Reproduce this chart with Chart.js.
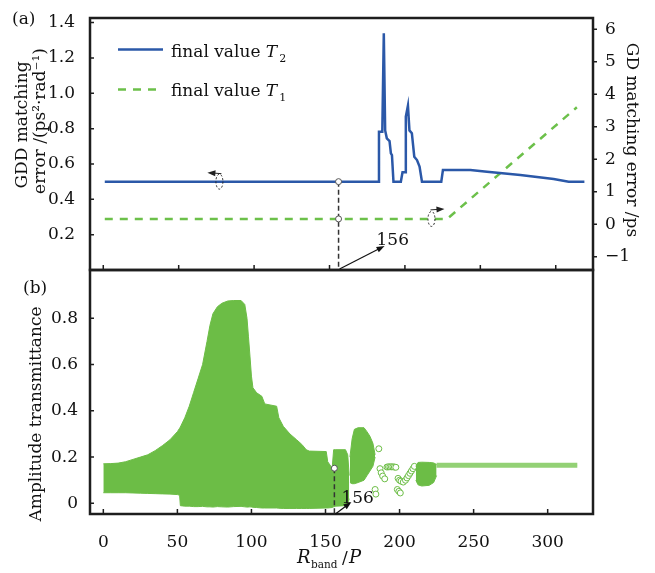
<!DOCTYPE html>
<html>
<head>
<meta charset="utf-8">
<script src="https://cdn.jsdelivr.net/npm/chart.js@4.4.1/dist/chart.umd.min.js"></script>
<style>
  html, body { margin: 0; padding: 0; background: #fff; }
  #wrap { position: relative; width: 655px; height: 573px; }
  #wrap canvas { position: absolute; left: 0; top: 0; }
</style>
</head>
<body>
<div id="wrap">
  <canvas id="topChart" width="655" height="573"></canvas>
  <canvas id="bottomChart" width="655" height="573"></canvas>
</div>
<script>
// Tick labels
const xTicks = [0, 50, 100, 150, 200, 250, 300];
const gddTicks = [0.2, 0.4, 0.6, 0.8, 1.0, 1.2, 1.4];
const gdTicks = [-1, 0, 1, 2, 3, 4, 5, 6];
const ampTicks = [0, 0.2, 0.4, 0.6, 0.8];

// (a) final value T2 -> GDD error (left axis)
const t2X = [1, 182.3, 182.8, 185, 186, 186.9, 188, 189.8, 190.7, 191.4, 192.4, 197.3, 198.4, 200.2, 200.6, 202, 203, 204.6, 206.2, 208, 209.7, 211.3, 224.1, 225.2, 243.4, 254.4, 276.5, 298.6, 308.6, 319];
const t2Y = [0.5, 0.5, 0.783, 0.783, 1.34, 0.79, 0.745, 0.73, 0.66, 0.65, 0.5, 0.5, 0.553, 0.553, 0.868, 0.93, 0.79, 0.774, 0.641, 0.622, 0.585, 0.5, 0.5, 0.566, 0.566, 0.556, 0.538, 0.515, 0.5, 0.5];

// (a) final value T1 -> GD error (right axis)
const t1X = [1, 228, 314];
const t1Y = [0.163, 0.163, 3.6];

// (b) dense scatter envelope
const mainX = [0, 5, 10, 15, 20, 25, 30, 35, 40, 45, 50, 51.5, 52, 55, 58, 61, 64, 67, 70, 72, 74, 77, 80, 84, 88, 93, 95.5, 97, 98, 99, 100, 101, 103.5, 107, 109, 117, 118.5, 121.5, 126, 130.5, 134, 137, 139, 150.5, 151.5, 154.5, 155.5, 157, 163.5, 165, 166];
const mainUpper = [0.171, 0.172, 0.174, 0.18, 0.19, 0.2, 0.21, 0.228, 0.25, 0.275, 0.31, 0.325, 0.33, 0.37, 0.42, 0.48, 0.54, 0.6, 0.7, 0.77, 0.82, 0.85, 0.865, 0.875, 0.877, 0.877, 0.86, 0.8, 0.72, 0.637, 0.55, 0.5, 0.478, 0.463, 0.43, 0.42, 0.37, 0.333, 0.3, 0.275, 0.255, 0.232, 0.226, 0.224, 0.18, 0.152, 0.232, 0.232, 0.232, 0.21, 0.12];
const mainLower = [0.046, 0.046, 0.046, 0.046, 0.045, 0.044, 0.043, 0.042, 0.041, 0.04, 0.038, 0.035, -0.01, -0.012, -0.012, -0.014, -0.014, -0.013, -0.015, -0.015, -0.016, -0.014, -0.015, -0.016, -0.014, -0.013, -0.015, -0.016, -0.016, -0.015, -0.016, -0.017, -0.018, -0.02, -0.02, -0.02, -0.021, -0.022, -0.022, -0.022, -0.022, -0.022, -0.022, -0.02, -0.02, -0.018, -0.015, -0.012, -0.01, 0.0, 0.02];

const clusterBX = [166.5, 168, 169.5, 172, 176, 178, 180, 182, 183.5];
const clusterBUpper = [0.2, 0.28, 0.32, 0.327, 0.327, 0.31, 0.29, 0.26, 0.21];
const clusterBLower = [0.09, 0.085, 0.085, 0.09, 0.1, 0.12, 0.14, 0.16, 0.2];

const clusterCX = [211, 212.5, 215, 220, 223, 225];
const clusterCUpper = [0.16, 0.177, 0.178, 0.177, 0.175, 0.168];
const clusterCLower = [0.1, 0.08, 0.075, 0.078, 0.09, 0.12];

// (b) isolated circles
const dotX = [183.5, 184, 186, 186.8, 187.6, 188.6, 190, 191.5, 192.5, 193.5, 194.5, 195.5, 196.5, 197.5, 198.5, 199.5, 200.5, 199, 200, 201, 202.5, 204, 205, 206, 207, 208, 209, 210];
const dotY = [0.06, 0.04, 0.236, 0.15, 0.132, 0.118, 0.106, 0.157, 0.158, 0.158, 0.158, 0.158, 0.157, 0.156, 0.06, 0.052, 0.045, 0.108, 0.1, 0.096, 0.092, 0.1, 0.11, 0.12, 0.13, 0.14, 0.15, 0.16];

// (b) flat tail of circles
const tailX = [225, 320];
const tailY = [0.165, 0.165];

// marked point
const markX = 156;
const markGdd = 0.5;
const markGd = 0.163;
const markAmp = 0.152;

const SERIF = '"DejaVu Serif", "Liberation Serif", serif';
const BLUE = '#2b58a8';
const GREEN_LINE = '#6cc04a';
const GREEN_FILL = '#6cbd46';
const AXIS = '#1e1e1e';

Chart.defaults.font.family = SERIF;
Chart.defaults.font.size = 17;
Chart.defaults.color = '#111';

const pts = (xs, ys) => xs.map((x, i) => ({ x: x, y: ys[i] }));
const fixTicks = list => scale => { scale.ticks = list.map(v => ({ value: v })); };
const fmtInt = v => (v < 0 ? '\u2212' + Math.abs(v) : String(v));
const fmtDec = v => (v === 0 ? '0' : v.toFixed(1));

function drawArrow(ctx, x1, y1, x2, y2) {
    const ang = Math.atan2(y2 - y1, x2 - x1);
    ctx.beginPath();
    ctx.moveTo(x1, y1);
    ctx.lineTo(x2 - 5 * Math.cos(ang), y2 - 5 * Math.sin(ang));
    ctx.stroke();
    ctx.beginPath();
    ctx.moveTo(x2, y2);
    ctx.lineTo(x2 - 8 * Math.cos(ang) + 3 * Math.sin(ang), y2 - 8 * Math.sin(ang) - 3 * Math.cos(ang));
    ctx.lineTo(x2 - 8 * Math.cos(ang) - 3 * Math.sin(ang), y2 - 8 * Math.sin(ang) + 3 * Math.cos(ang));
    ctx.closePath();
    ctx.fill();
}

function drawLoop(ctx, cx, cy, dir) {
    ctx.save();
    ctx.lineWidth = 1;
    ctx.strokeStyle = '#222';
    ctx.fillStyle = '#222';
    ctx.setLineDash([2, 2]);
    ctx.beginPath();
    ctx.ellipse(cx, cy, 3.5, 7.5, 0, 0, Math.PI * 2);
    ctx.stroke();
    ctx.setLineDash([]);
    if (dir < 0) drawArrow(ctx, cx + 2, cy - 8, cx - 12, cy - 9);
    else drawArrow(ctx, cx - 1, cy - 9, cx + 13, cy - 10);
    ctx.restore();
}

function hollowDot(ctx, x, y) {
    ctx.beginPath();
    ctx.arc(x, y, 3, 0, Math.PI * 2);
    ctx.fillStyle = '#fff';
    ctx.fill();
    ctx.lineWidth = 1;
    ctx.strokeStyle = '#555';
    ctx.stroke();
}

function vText(ctx, str, x, y, angle) {
    ctx.save();
    ctx.translate(x, y);
    ctx.rotate(angle);
    ctx.textAlign = 'center';
    ctx.textBaseline = 'middle';
    ctx.fillText(str, 0, 0);
    ctx.restore();
}

// short tick marks, len > 0 points into the plot
function drawTicks(ctx, scale, edge, len) {
    ctx.save();
    ctx.strokeStyle = AXIS;
    ctx.lineWidth = 1.5;
    ctx.beginPath();
    scale.ticks.forEach(t => {
        const p = scale.getPixelForValue(t.value);
        if (edge === 'bottom') { ctx.moveTo(p, edge === 'bottom' ? scale.chart.chartArea.bottom : 0); ctx.lineTo(p, scale.chart.chartArea.bottom - len); }
        if (edge === 'left') { ctx.moveTo(scale.chart.chartArea.left, p); ctx.lineTo(scale.chart.chartArea.left + len, p); }
        if (edge === 'right') { ctx.moveTo(scale.chart.chartArea.right, p); ctx.lineTo(scale.chart.chartArea.right - len, p); }
    });
    ctx.stroke();
    ctx.restore();
}

function frame(ctx, a) {
    ctx.strokeStyle = AXIS;
    ctx.lineWidth = 2.5;
    ctx.strokeRect(a.left, a.top, a.right - a.left, a.bottom - a.top);
}

const topDecor = {
    id: 'topDecor',
    afterDraw(chart) {
        const { ctx, chartArea: a, scales } = chart;
        ctx.save();
        frame(ctx, a);
        drawTicks(ctx, scales.x, 'bottom', 5);
        drawTicks(ctx, scales.y, 'left', 4);
        drawTicks(ctx, scales.y2, 'right', -4);

        // marker at 156
        const mx = scales.x.getPixelForValue(markX);
        const yb = scales.y.getPixelForValue(markGdd);
        const yg = scales.y2.getPixelForValue(markGd);
        ctx.setLineDash([5, 3]);
        ctx.lineWidth = 1.5;
        ctx.strokeStyle = '#333';
        ctx.beginPath();
        ctx.moveTo(mx, yb);
        ctx.lineTo(mx, a.bottom);
        ctx.stroke();
        ctx.setLineDash([]);
        hollowDot(ctx, mx, yb);
        hollowDot(ctx, mx, yg);

        ctx.fillStyle = '#111';
        ctx.strokeStyle = '#111';
        ctx.lineWidth = 1.2;
        drawArrow(ctx, mx + 1, a.bottom - 1, mx + 46, a.bottom - 24);
        ctx.font = '17px ' + SERIF;
        ctx.textAlign = 'left';
        ctx.textBaseline = 'alphabetic';
        ctx.fillText('156', mx + 38, a.bottom - 25);

        // axis-side loops
        drawLoop(ctx, scales.x.getPixelForValue(77), scales.y.getPixelForValue(0.5), -1);
        drawLoop(ctx, scales.x.getPixelForValue(217.6), scales.y2.getPixelForValue(0.163), 1);

        // legend
        ctx.lineWidth = 2.5;
        ctx.strokeStyle = BLUE;
        ctx.beginPath();
        ctx.moveTo(118, 49.5);
        ctx.lineTo(163, 49.5);
        ctx.stroke();
        ctx.strokeStyle = GREEN_LINE;
        ctx.setLineDash([8, 7]);
        ctx.beginPath();
        ctx.moveTo(118, 89.5);
        ctx.lineTo(160, 89.5);
        ctx.stroke();
        ctx.setLineDash([]);
        [['2', 57], ['1', 96]].forEach(([sub, base]) => {
            ctx.fillStyle = '#111';
            ctx.font = '17px ' + SERIF;
            ctx.fillText('final value ', 171, base);
            let w = ctx.measureText('final value ').width;
            ctx.font = 'italic 17px ' + SERIF;
            ctx.fillText('T', 171 + w, base);
            w += ctx.measureText('T').width;
            ctx.font = '11px ' + SERIF;
            ctx.fillText(sub, 171 + w + 2, base + 5);
        });

        // panel label and axis titles
        ctx.font = '17px ' + SERIF;
        ctx.fillText('(a)', 12, 24);
        vText(ctx, 'GDD matching', 22.5, 125, -Math.PI / 2);
        vText(ctx, 'error /(ps\u00B2\u00B7rad\u207B\u00B9)', 41, 121, -Math.PI / 2);
        vText(ctx, 'GD matching error /ps', 631, 140, Math.PI / 2);
        ctx.restore();
    }
};

const bottomDecor = {
    id: 'bottomDecor',
    afterDraw(chart) {
        const { ctx, chartArea: a, scales } = chart;
        ctx.save();
        frame(ctx, a);
        drawTicks(ctx, scales.x, 'bottom', 5);
        drawTicks(ctx, scales.y, 'left', 4);

        const mx = scales.x.getPixelForValue(markX);
        const my = scales.y.getPixelForValue(markAmp);
        ctx.setLineDash([5, 3]);
        ctx.lineWidth = 1.5;
        ctx.strokeStyle = '#333';
        ctx.beginPath();
        ctx.moveTo(mx, my);
        ctx.lineTo(mx, a.bottom);
        ctx.stroke();
        ctx.setLineDash([]);
        hollowDot(ctx, mx, my);

        ctx.fillStyle = '#111';
        ctx.strokeStyle = '#111';
        ctx.lineWidth = 1.2;
        drawArrow(ctx, mx + 1, a.bottom, mx + 17, a.bottom - 12);
        ctx.font = '17px ' + SERIF;
        ctx.textAlign = 'left';
        ctx.textBaseline = 'alphabetic';
        ctx.fillText('156', mx + 7, a.bottom - 11);

        ctx.fillText('(b)', 23, 293);
        vText(ctx, 'Amplitude transmittance', 37, 414, -Math.PI / 2);

        // x title: R_band /P
        ctx.textAlign = 'left';
        ctx.font = 'italic 18px ' + SERIF;
        ctx.fillText('R', 297, 563);
        ctx.font = '10.5px ' + SERIF;
        ctx.fillText('band', 311, 568);
        ctx.font = '17px ' + SERIF;
        ctx.fillText('/', 342, 563);
        ctx.font = 'italic 18px ' + SERIF;
        ctx.fillText('P', 349, 563);
        ctx.restore();
    }
};

const noGrid = { display: false };

new Chart(document.getElementById('topChart'), {
    type: 'line',
    data: {
        datasets: [
            { label: 'final value T2', data: pts(t2X, t2Y), yAxisID: 'y', borderColor: BLUE, borderWidth: 2.5, pointRadius: 0, tension: 0, fill: false },
            { label: 'final value T1', data: pts(t1X, t1Y), yAxisID: 'y2', borderColor: GREEN_LINE, borderWidth: 2.5, borderDash: [8, 7], pointRadius: 0, tension: 0, fill: false }
        ]
    },
    options: {
        responsive: false,
        animation: false,
        devicePixelRatio: 1,
        layout: { padding: { top: 18, left: 0, right: 0, bottom: 0 } },
        plugins: { legend: { display: false }, tooltip: { enabled: false } },
        scales: {
            x: {
                type: 'linear', min: -8.8, max: 324.7,
                afterBuildTicks: fixTicks(xTicks),
                afterFit: s => { s.height = 303; },
                ticks: { display: false },
                grid: noGrid,
                border: { display: false }
            },
            y: {
                position: 'left', min: 0, max: 1.426,
                afterBuildTicks: fixTicks(gddTicks),
                afterFit: s => { s.width = 90; },
                ticks: { padding: 7, callback: fmtDec },
                grid: noGrid,
                border: { display: false }
            },
            y2: {
                position: 'right', min: -1.41, max: 6.35,
                afterBuildTicks: fixTicks(gdTicks),
                afterFit: s => { s.width = 62; },
                ticks: { padding: 4, callback: fmtInt },
                grid: noGrid,
                border: { display: false }
            }
        }
    },
    plugins: [topDecor]
});

const band = (xs, lo, hi) => [
    { data: pts(xs, lo), borderColor: GREEN_FILL, borderWidth: 1, pointRadius: 0, tension: 0, fill: false },
    { data: pts(xs, hi), borderColor: GREEN_FILL, borderWidth: 1, backgroundColor: GREEN_FILL, pointRadius: 0, tension: 0, fill: '-1' }
];

new Chart(document.getElementById('bottomChart'), {
    type: 'line',
    data: {
        datasets: [
            ...band(mainX, mainLower, mainUpper),
            ...band(clusterBX, clusterBLower, clusterBUpper),
            ...band(clusterCX, clusterCLower, clusterCUpper),
            { data: pts(tailX, tailY), borderColor: '#93d175', borderWidth: 5, pointRadius: 0, fill: false },
            { data: pts(tailX, tailY), borderColor: '#eaf6e4', borderWidth: 1.5, pointRadius: 0, fill: false },
            { data: pts(dotX, dotY), showLine: false, pointRadius: 3, pointBorderWidth: 1, pointBorderColor: GREEN_FILL, pointBackgroundColor: '#fff', fill: false }
        ]
    },
    options: {
        responsive: false,
        animation: false,
        devicePixelRatio: 1,
        layout: { padding: { top: 270, left: 0, right: 62, bottom: 0 } },
        plugins: { legend: { display: false }, tooltip: { enabled: false } },
        scales: {
            x: {
                type: 'linear', min: -9, max: 330.6,
                afterBuildTicks: fixTicks(xTicks),
                afterFit: s => { s.height = 59; },
                ticks: { padding: 10, callback: fmtInt },
                grid: noGrid,
                border: { display: false }
            },
            y: {
                position: 'left', min: -0.046, max: 1.009,
                afterBuildTicks: fixTicks(ampTicks),
                afterFit: s => { s.width = 90; },
                ticks: { padding: 4, callback: fmtDec },
                grid: noGrid,
                border: { display: false }
            }
        }
    },
    plugins: [bottomDecor]
});
</script>
</body>
</html>
